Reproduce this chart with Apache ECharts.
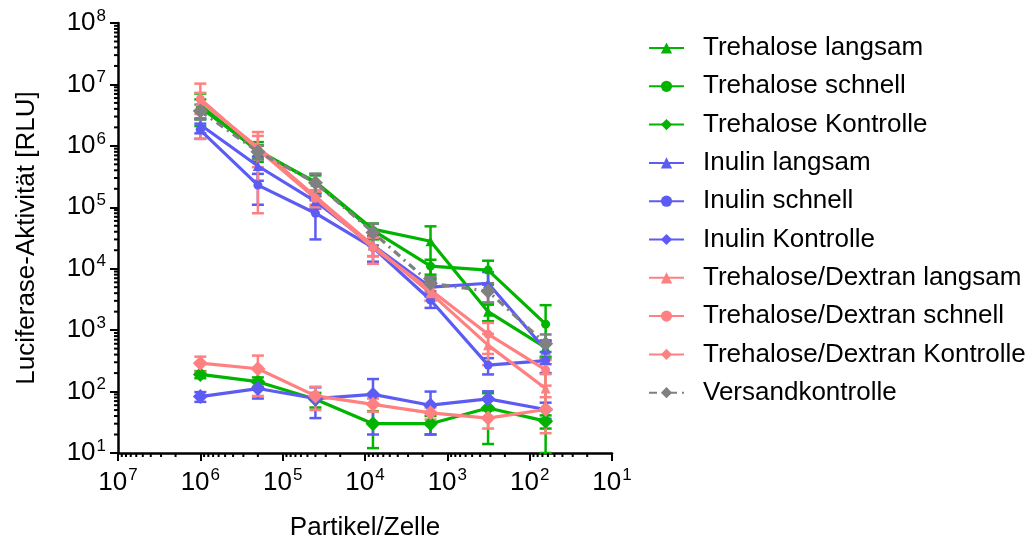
<!DOCTYPE html>
<html>
<head>
<meta charset="utf-8">
<script src="https://cdn.jsdelivr.net/npm/echarts@6/dist/echarts.min.js"></script>
<style>
  html, body { margin: 0; padding: 0; background: #fff; }
  #chart { width: 1036px; height: 546px; }
</style>
</head>
<body>
<div id="chart"></div>
<script>
// Partikel pro Zelle (5-fache Verdünnung)
var partikel = [1e6, 2e5, 4e4, 8e3, 1.6e3, 320, 64];

// Mittelwerte (RLU) und Standardabweichungen
var trehLangsam = [4.6e6, 8.2e5, 2.6e5, 4.4e4, 2.8e4, 2.0e3, 520];
var trehLangsamSd = [2.5e6, 2e5, 9e4, 1e4, 2.1e4, 600, 150];
var trehSchnell = [4.2e6, 8.5e5, 2.5e5, 4.2e4, 1.1e4, 9.5e3, 1250];
var trehSchnellSd = [1.5e6, 3e5, 8e4, 1.2e4, 3e3, 4e3, 1300];
var trehKontrolle = [190, 145, 75, 30, 30, 54, 33];
var trehKontrolleSd = [25, 25, 20, 18, 10, 40, 8];

var inuLangsam = [2.2e6, 4.7e5, 1.25e5, 2.4e4, 5e3, 5.8e3, 480];
var inuLangsamSd = [6e5, 2e5, 3e4, 8e3, 1.5e3, 3e3, 200];
var inuSchnell = [1.8e6, 2.3e5, 8e4, 2.2e4, 3.1e3, 270, 320];
var inuSchnellSd = [5e5, 1.2e5, 5e4, 9e3, 800, 80, 120];
var inuKontrolle = [83, 112, 77, 90, 60, 76, 51];
var inuKontrolleSd = [15, 35, 40, 70, 40, 25, 15];

var tdLangsam = [5.3e6, 9.5e5, 1.5e5, 2.4e4, 4e3, 570, 112];
var tdLangsamSd = [2e6, 5e5, 4e4, 8e3, 1e3, 300, 80];
var tdSchnell = [5.8e6, 8.8e5, 1.4e5, 2.2e4, 4.5e3, 860, 225];
var tdSchnellSd = [4.5e6, 8e5, 4e4, 1e4, 1.5e3, 450, 100];
var tdKontrolle = [290, 235, 85, 62, 45, 37, 51];
var tdKontrolleSd = [80, 150, 35, 15, 10, 12, 30];

var versand = [3.7e6, 8e5, 2.5e5, 3.9e4, 5.8e3, 4.3e3, 600];
var versandSd = [1e6, 2e5, 1e5, 1.5e4, 1.5e3, 1.5e3, 250];

var green = "#00b400", blue = "#5c5cf5", pink = "#ff8080", grey = "#808080";

var chart = echarts.init(document.getElementById("chart"));

var groups = [
  { name: "Trehalose langsam", data: trehLangsam, sd: trehLangsamSd, color: green, symbol: "triangle", size: 10 },
  { name: "Trehalose schnell", data: trehSchnell, sd: trehSchnellSd, color: green, symbol: "circle", size: 9 },
  { name: "Trehalose Kontrolle", data: trehKontrolle, sd: trehKontrolleSd, color: green, symbol: "diamond", size: 15 },
  { name: "Inulin langsam", data: inuLangsam, sd: inuLangsamSd, color: blue, symbol: "triangle", size: 10 },
  { name: "Inulin schnell", data: inuSchnell, sd: inuSchnellSd, color: blue, symbol: "circle", size: 9 },
  { name: "Inulin Kontrolle", data: inuKontrolle, sd: inuKontrolleSd, color: blue, symbol: "diamond", size: 15 },
  { name: "Trehalose/Dextran langsam", data: tdLangsam, sd: tdLangsamSd, color: pink, symbol: "triangle", size: 10 },
  { name: "Trehalose/Dextran schnell", data: tdSchnell, sd: tdSchnellSd, color: pink, symbol: "circle", size: 9 },
  { name: "Trehalose/Dextran Kontrolle", data: tdKontrolle, sd: tdKontrolleSd, color: pink, symbol: "diamond", size: 15 },
  { name: "Versandkontrolle", data: versand, sd: versandSd, color: grey, symbol: "diamond", size: 15, dashed: true }
];

function expLabel(v) {
  return "{b|10}{s|" + Math.round(Math.log10(v)) + "}";
}

// kleine Striche zwischen den Dekaden (log-Achse)
function minorValues(lo, hi) {
  var out = [];
  for (var e = lo; e < hi; e++) {
    for (var m = 2; m <= 9; m++) out.push(m * Math.pow(10, e));
  }
  return out;
}

var series = [];

// Fehlerbalken
groups.forEach(function (g) {
  var rows = partikel.map(function (x, i) {
    var low = g.data[i] - g.sd[i];
    if (low < 10) low = 10;
    return [x, low, g.data[i] + g.sd[i]];
  });
  series.push({
    type: "custom",
    name: g.name + " SD",
    silent: true,
    z: 2,
    data: rows,
    renderItem: function (params, api) {
      var top = api.coord([api.value(0), api.value(2)]);
      var bot = api.coord([api.value(0), api.value(1)]);
      var w = 6;
      var style = { stroke: g.color, lineWidth: 2.5, fill: null };
      return {
        type: "group",
        children: [
          { type: "line", shape: { x1: top[0], y1: top[1], x2: bot[0], y2: bot[1] }, style: style },
          { type: "line", shape: { x1: top[0] - w, y1: top[1], x2: top[0] + w, y2: top[1] }, style: style },
          { type: "line", shape: { x1: bot[0] - w, y1: bot[1], x2: bot[0] + w, y2: bot[1] }, style: style }
        ]
      };
    }
  });
});

groups.forEach(function (g) {
  series.push({
    type: "line",
    name: g.name,
    z: g.dashed ? 5 : 3,
    symbol: g.symbol,
    symbolSize: g.size,
    showAllSymbol: true,
    color: g.color,
    itemStyle: { color: g.color },
    lineStyle: { color: g.color, width: 3.2, type: g.dashed ? [8, 5, 2, 5] : "solid" },
    data: partikel.map(function (x, i) { return [x, g.data[i]]; })
  });
});

// kleine Achsenstriche
series.push({
  type: "custom",
  silent: true,
  z: 6,
  data: minorValues(1, 7).map(function (v) { return [v, 10]; }),
  renderItem: function (params, api) {
    var p = api.coord([api.value(0), 10]);
    return { type: "line", shape: { x1: p[0], y1: p[1], x2: p[0], y2: p[1] + 4 }, style: { stroke: "#000", lineWidth: 2 } };
  }
});
series.push({
  type: "custom",
  silent: true,
  z: 6,
  data: minorValues(1, 8).map(function (v) { return [1e7, v]; }),
  renderItem: function (params, api) {
    var p = api.coord([1e7, api.value(1)]);
    return { type: "line", shape: { x1: p[0], y1: p[1], x2: p[0] - 4, y2: p[1] }, style: { stroke: "#000", lineWidth: 2 } };
  }
});

var axisRich = {
  b: { fontSize: 26, color: "#000", fontFamily: "Liberation Sans, Arial" },
  s: { fontSize: 17, color: "#000", fontFamily: "Liberation Sans, Arial", padding: [0, 0, 14, 1] }
};

var option = {
  animation: false,
  backgroundColor: "#fff",
  textStyle: { fontFamily: "Liberation Sans, Arial" },
  grid: { left: 118, right: 424, top: 23, bottom: 89 },
  legend: {
    data: groups.map(function (g) { return g.name; }),
    orient: "vertical",
    left: 643,
    top: 30,
    itemWidth: 35,
    itemHeight: 14,
    itemGap: 12.3,
    textStyle: { fontSize: 26, color: "#000", lineHeight: 26, padding: [0, 0, 0, 14] }
  },
  xAxis: {
    type: "log",
    logBase: 10,
    min: 10,
    max: 1e7,
    inverse: true,
    name: "Partikel/Zelle",
    nameLocation: "middle",
    nameGap: 62,
    nameTextStyle: { fontSize: 26, color: "#000" },
    axisLine: { lineStyle: { color: "#000", width: 2.5 } },
    axisTick: { show: true, length: 8, lineStyle: { color: "#000", width: 2 } },
    axisLabel: { margin: 14, formatter: expLabel, rich: axisRich },
    splitLine: { show: false }
  },
  yAxis: {
    type: "log",
    logBase: 10,
    min: 10,
    max: 1e8,
    name: "Luciferase-Aktivität [RLU]",
    nameLocation: "middle",
    nameGap: 78,
    nameTextStyle: { fontSize: 26, color: "#000" },
    axisLine: { show: true, lineStyle: { color: "#000", width: 2.5 } },
    axisTick: { show: true, length: 8, lineStyle: { color: "#000", width: 2 } },
    axisLabel: { margin: 12, formatter: expLabel, rich: axisRich },
    splitLine: { show: false }
  },
  series: series
};

chart.setOption(option);
window.addEventListener("resize", function () {
  chart.resize();
});
</script>
</body>
</html>
